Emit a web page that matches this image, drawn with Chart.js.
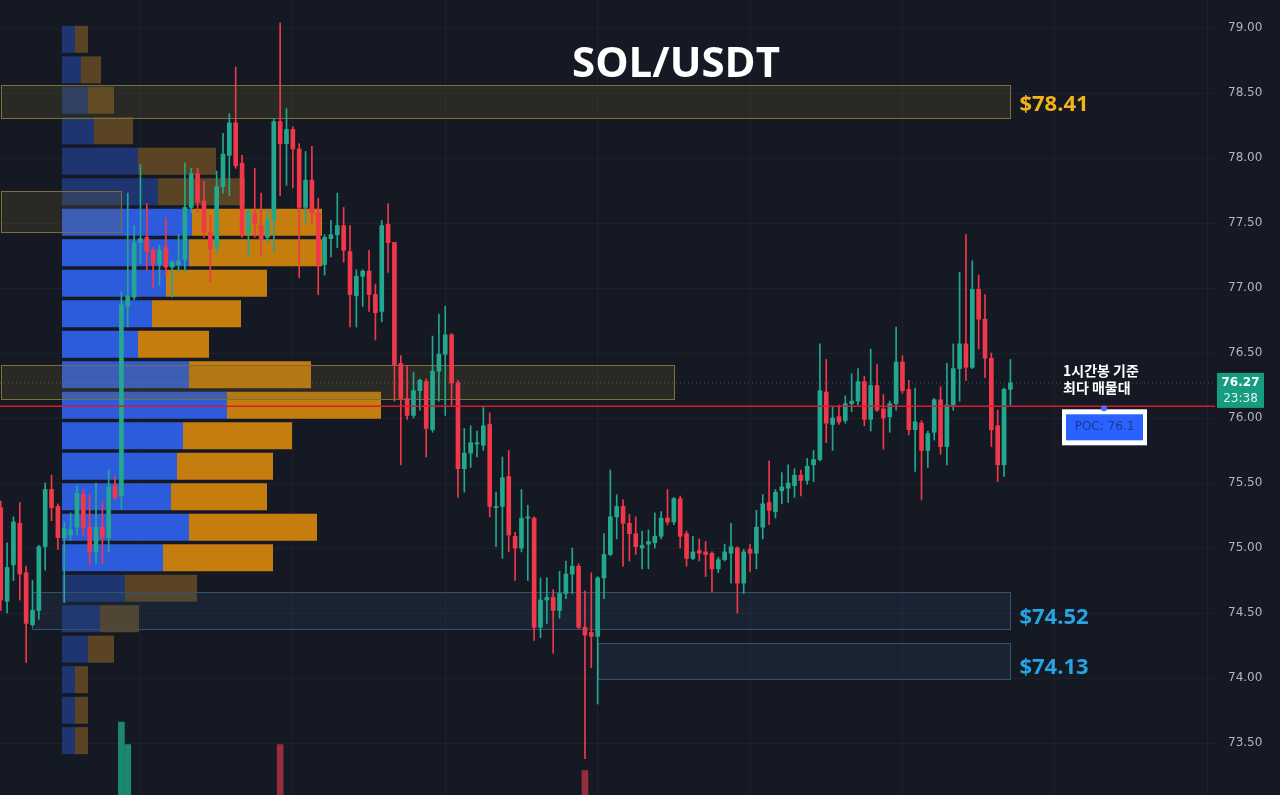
<!DOCTYPE html>
<html>
<head>
<meta charset="utf-8">
<script src="https://cdn.jsdelivr.net/npm/chart.js@4.4.1/dist/chart.umd.min.js"></script>
<style>
  html, body { margin: 0; padding: 0; background: #141923; overflow: hidden; }
  canvas { display: block; }
</style>
</head>
<body>
<canvas id="chart" width="1280" height="795"></canvas>
<script>
// ── Data ────────────────────────────────────────────────────────────
const TITLE = "SOL/USDT";

// 1h candles, oldest first
const OPEN = [
  75.31,74.59,74.87,75.19,74.81,74.41,74.52,75.01,75.45,75.32,
  75.08,75.10,75.16,75.41,75.16,74.97,75.16,75.08,75.48,75.40,
  76.86,76.93,77.35,77.39,77.29,77.18,77.31,77.16,77.18,77.22,
  77.62,77.88,77.67,77.43,77.31,77.78,78.02,78.27,77.96,77.42,
  77.57,77.48,77.39,77.52,78.28,78.11,78.22,78.07,77.62,77.83,
  77.58,77.18,77.38,77.41,77.48,77.28,76.94,77.09,77.13,76.95,
  76.82,77.49,77.35,76.42,76.15,76.02,76.21,76.28,75.91,76.36,
  76.49,76.64,76.27,75.61,75.73,75.80,75.79,75.95,75.31,75.32,
  75.55,75.09,75.00,75.23,75.23,74.39,74.60,74.62,74.52,74.65,
  74.80,74.86,74.39,74.35,74.32,74.77,74.95,75.24,75.32,75.19,
  75.11,75.00,75.03,75.04,75.09,75.23,75.20,75.38,75.11,74.92,
  74.98,74.97,74.96,74.84,74.91,74.96,75.00,74.73,74.99,74.96,
  75.16,75.35,75.28,75.44,75.46,75.48,75.56,75.52,75.64,75.68,
  76.20,75.95,76.01,75.98,76.11,76.13,76.28,75.99,76.25,76.07,
  76.01,76.11,76.43,76.22,75.91,75.96,75.75,75.89,76.14,75.78,
  76.10,76.38,76.57,76.39,76.99,76.76,76.46,75.94,75.64,76.22
];
const HIGH = [
  75.36,75.04,75.24,75.35,74.86,74.75,75.02,75.50,75.56,75.34,
  75.20,75.27,75.48,75.45,75.41,75.50,75.36,75.60,75.55,76.97,
  77.73,77.48,77.95,77.65,77.31,77.33,77.54,77.21,77.41,77.96,
  77.92,77.92,77.82,77.56,77.90,78.19,78.34,78.70,78.02,77.60,
  77.92,77.73,77.60,78.30,79.04,78.38,78.24,78.11,78.05,78.09,
  77.69,77.41,77.52,77.73,77.62,77.48,77.14,77.14,77.29,77.03,
  77.52,77.65,77.35,76.48,76.40,76.35,76.30,76.30,76.63,76.80,
  76.86,76.65,76.29,75.92,75.94,75.90,76.08,76.04,75.43,75.70,
  75.75,75.12,75.45,75.33,75.24,74.77,74.77,74.68,74.82,74.90,
  75.00,74.88,74.67,74.81,74.78,75.11,75.60,75.41,75.37,75.26,
  75.24,75.13,75.14,75.27,75.28,75.45,75.39,75.40,75.13,75.09,
  75.07,75.05,74.97,74.93,75.03,75.19,75.01,74.99,75.03,75.29,
  75.41,75.67,75.45,75.58,75.64,75.61,75.60,75.69,75.75,76.57,
  76.45,76.09,76.10,76.17,76.34,76.38,76.32,76.53,76.41,76.18,
  76.13,76.70,76.48,76.29,76.23,75.98,75.90,76.15,76.24,76.42,
  76.57,77.12,77.41,77.21,77.10,76.95,76.50,76.06,76.23,76.45
];
const LOW = [
  74.52,74.50,74.75,74.60,74.12,74.40,74.45,74.83,75.21,74.99,
  74.58,75.06,75.10,75.10,74.87,74.88,74.88,74.97,75.37,75.30,
  76.70,76.91,77.19,77.14,77.00,77.02,77.10,76.93,77.12,77.12,
  77.58,77.58,77.39,77.05,77.27,77.73,77.71,77.92,77.39,77.24,
  77.39,77.25,77.35,77.27,77.71,77.79,77.77,77.08,77.50,77.50,
  76.95,77.10,77.24,77.31,77.20,76.70,76.70,76.86,76.82,76.60,
  76.74,77.12,76.13,75.64,75.99,76.00,76.06,75.70,75.89,76.13,
  76.02,76.10,75.39,75.43,75.62,75.70,75.75,75.24,75.01,74.92,
  74.97,74.75,74.97,74.75,74.29,74.31,74.42,74.19,74.46,74.61,
  74.65,74.38,73.38,74.08,73.80,74.61,74.94,75.07,74.86,74.90,
  74.95,74.84,74.84,75.00,75.07,75.18,75.18,75.00,74.86,74.91,
  74.90,74.78,74.66,74.81,74.90,74.73,74.50,74.65,74.82,74.84,
  75.07,75.18,75.23,75.34,75.35,75.39,75.40,75.49,75.51,75.67,
  75.81,75.75,75.95,75.96,76.05,76.10,75.94,75.90,76.05,75.76,
  75.89,76.06,76.19,75.87,75.59,75.37,75.62,75.83,75.72,75.64,
  76.06,76.13,76.29,76.38,76.53,76.31,75.78,75.51,75.55,76.10
];
const CLOSE = [
  74.60,74.85,75.20,74.80,74.42,74.52,75.01,75.45,75.31,75.08,
  75.15,75.14,75.42,75.16,74.97,75.16,75.08,75.47,75.39,76.87,
  76.94,77.35,77.38,77.28,77.18,77.29,77.16,77.20,77.21,77.62,
  77.88,77.66,77.43,77.30,77.78,78.03,78.27,77.94,77.41,77.59,
  77.50,77.37,77.52,78.28,78.11,78.22,78.07,77.62,77.83,77.58,
  77.18,77.39,77.41,77.48,77.29,76.95,77.09,77.13,76.95,76.81,
  77.48,77.35,76.41,76.15,76.02,76.21,76.29,75.92,76.36,76.49,
  76.64,76.27,75.61,75.73,75.81,75.81,75.94,75.32,75.32,75.54,
  75.10,75.00,75.23,75.24,74.39,74.60,74.62,74.52,74.65,74.80,
  74.86,74.39,74.33,74.32,74.77,74.95,75.24,75.32,75.19,75.11,
  75.01,75.02,75.05,75.09,75.23,75.20,75.38,75.09,74.92,74.97,
  74.96,74.95,74.84,74.91,74.97,75.01,74.73,74.97,74.96,75.16,
  75.34,75.29,75.43,75.47,75.50,75.56,75.52,75.63,75.68,76.21,
  75.96,76.00,75.97,76.11,76.13,76.28,75.99,76.25,76.06,76.00,
  76.11,76.43,76.21,75.91,75.97,75.75,75.88,76.14,75.78,76.10,
  76.38,76.57,76.39,76.99,76.76,76.46,75.91,75.64,76.22,76.27
];

// volume bars that reach into the visible area (candle index -> volume, K)
const VOLUME_AT = [19, 20, 44, 92];
const VOLUME = [1850, 1710, 1710, 1550];

// volume profile rows (price centre, buy / sell volume, K)
const PROFILE_PRICES = [
  78.913,78.678,78.444,78.209,77.975,77.740,77.505,77.271,77.036,76.802,76.567,76.333,
  76.098,75.864,75.629,75.394,75.160,74.925,74.691,74.456,74.222,73.987,73.752,73.518
];
const PROFILE_BUY  = [13,19,26,32,76,96,130,127,104,90,76,127,165,121,115,109,127,101,63,38,26,13,13,13];
const PROFILE_SELL = [13,20,26,39,78,87,130,133,101,89,71,122,154,109,96,96,128,110,72,39,26,13,13,13];
const VALUE_AREA = [74.81, 77.62];

const POC_PRICE = 76.09;
const POC_TEXT = "POC: 76.1";
const NOTE_LINES = ["1시간봉 기준", "최다 매물대"];
const CLOCK = "23:38";

// zones: candle index range, price range
const ZONES = [
  { from: 0,  to: 159, top: 78.56, bottom: 78.31, kind: "resist", label: 78.41 },
  { from: 0,  to: 19,  top: 77.75, bottom: 77.43, kind: "resist" },
  { from: 0,  to: 106, top: 76.41, bottom: 76.15, kind: "resist" },
  { from: 5,  to: 159, top: 74.66, bottom: 74.38, kind: "support", label: 74.52 },
  { from: 94, to: 159, top: 74.27, bottom: 73.99, kind: "support", label: 74.13 },
];

const Y_TICKS = [73.5,74,74.5,75,75.5,76,76.5,77,77.5,78,78.5,79];
const GRID_X = [22, 46, 70, 94, 118, 142, 166, 190];

// ── Styles ──────────────────────────────────────────────────────────
const BG = "#141923";
const UP = "#22a88e", DOWN = "#f0384a";
const GRID = "#1c212c";
const ZONE_STYLE = {
  resist:  { fill: "rgba(120,105,45,0.22)", stroke: "#7d6f36", text: "#f2b418", dy: 0 },
  support: { fill: "rgba(45,75,105,0.22)",  stroke: "#34536b", text: "#27a4e2", dy: 7 },
};
const XMIN = -0.118, XMAX = 191.22;
const YMIN = 73.1, YMAX = 79.2154;

const idx = OPEN.map((_, i) => i);
const upAt = i => CLOSE[i] >= OPEN[i];
const inVA = p => p >= VALUE_AREA[0] && p <= VALUE_AREA[1];
const noPad = s => { s.paddingTop = s.paddingBottom = s.paddingLeft = s.paddingRight = 0; };

// ── Plugins ─────────────────────────────────────────────────────────
const bgPlugin = {
  id: "bg",
  beforeDraw(chart) {
    const { ctx, width, height } = chart;
    ctx.save();
    ctx.fillStyle = BG;
    ctx.fillRect(0, 0, width, height);
    ctx.restore();
  }
};

const zonePlugin = {
  id: "zones",
  beforeDatasetDraw(chart, args) {
    if (args.index !== 4) return;
    const { ctx, scales: { x, y } } = chart;
    ctx.save();
    ZONES.forEach(z => {
      const st = ZONE_STYLE[z.kind];
      const x0 = Math.round(x.getPixelForValue(z.from)), x1 = Math.round(x.getPixelForValue(z.to));
      const y0 = Math.round(y.getPixelForValue(z.top)), y1 = Math.round(y.getPixelForValue(z.bottom));
      ctx.fillStyle = st.fill;
      ctx.fillRect(x0, y0, x1 - x0, y1 - y0);
      ctx.strokeStyle = st.stroke;
      ctx.lineWidth = 1;
      ctx.strokeRect(x0 + 0.5, y0 + 0.5, x1 - x0, y1 - y0);
    });
    ctx.restore();
  }
};

const overlayPlugin = {
  id: "overlay",
  afterDraw(chart) {
    const { ctx, scales: { x, y } } = chart;
    ctx.save();

    // title
    ctx.fillStyle = "#ffffff";
    ctx.font = '700 42px "Open Sans"';
    ctx.textAlign = "center";
    ctx.textBaseline = "middle";
    ctx.fillText(TITLE, 676, 65);

    // zone price labels
    ctx.font = '700 22px "Open Sans"';
    ctx.textAlign = "left";
    ZONES.filter(z => z.label).forEach(z => {
      const st = ZONE_STYLE[z.kind];
      ctx.fillStyle = st.text;
      ctx.fillText("$" + z.label.toFixed(2), x.getPixelForValue(z.to) + 9, y.getPixelForValue(z.label) + st.dy);
    });

    // POC note
    const pocY = y.getPixelForValue(POC_PRICE);
    ctx.fillStyle = "#ffffff";
    ctx.font = '700 14px "Noto Sans CJK KR"';
    ctx.fillText(NOTE_LINES[0], 1063, pocY - 36);
    ctx.fillText(NOTE_LINES[1], 1063, pocY - 19);

    ctx.fillStyle = "#ffffff";
    ctx.fillRect(1062, pocY + 3, 85, 36);
    ctx.fillStyle = "#2962ff";
    ctx.fillRect(1066, pocY + 8, 77, 26);
    ctx.fillStyle = "#1b3a8f";
    ctx.font = '12px "DejaVu Sans"';
    ctx.textAlign = "center";
    ctx.fillText(POC_TEXT, 1104.5, pocY + 21);
    ctx.fillStyle = "#4b6df0";
    ctx.beginPath();
    ctx.arc(1104, pocY + 2, 3, 0, Math.PI * 2);
    ctx.fill();

    // last price tag
    const last = CLOSE[CLOSE.length - 1];
    const ly = y.getPixelForValue(last);
    ctx.fillStyle = "#169c80";
    ctx.fillRect(1217, ly - 10, 47, 35);
    ctx.fillStyle = "#ffffff";
    ctx.font = '700 12px "DejaVu Sans"';
    ctx.fillText(last.toFixed(2), 1240.5, ly);
    ctx.fillStyle = "#dff3ee";
    ctx.font = '12px "DejaVu Sans"';
    ctx.fillText(CLOCK, 1240.5, ly + 16);

    ctx.restore();
  }
};

// ── Chart ───────────────────────────────────────────────────────────
const profileColor = (dimmed, bright) => PROFILE_PRICES.map(p => inVA(p) ? bright : dimmed);

new Chart(document.getElementById("chart"), {
  type: "bar",
  data: {
    datasets: [
      {
        label: "buy", indexAxis: "y", xAxisID: "xp", yAxisID: "yp", order: 6,
        data: PROFILE_PRICES.map((p, k) => ({ y: p, x: [0, PROFILE_BUY[k]] })),
        backgroundColor: profileColor("#1f3572", "#2c5bdc"),
        barThickness: 27, grouped: false, inflateAmount: 0,
      },
      {
        label: "sell", indexAxis: "y", xAxisID: "xp", yAxisID: "yp", order: 5,
        data: PROFILE_PRICES.map((p, k) => ({ y: p, x: [PROFILE_BUY[k], PROFILE_BUY[k] + PROFILE_SELL[k]] })),
        backgroundColor: profileColor("#5b4424", "#c57d0e"),
        barThickness: 27, grouped: false, inflateAmount: 0,
      },
      {
        label: "volume", xAxisID: "x", yAxisID: "yv", order: 4,
        data: VOLUME_AT.map((i, k) => ({ x: i, y: VOLUME[k] })),
        backgroundColor: VOLUME_AT.map(i => upAt(i) ? "#1b8873" : "#962c3c"),
        barThickness: 6, grouped: false,
      },
      {
        type: "line", label: "last", xAxisID: "x", yAxisID: "y", order: 3,
        data: [{ x: XMIN, y: CLOSE[CLOSE.length - 1] }, { x: XMAX, y: CLOSE[CLOSE.length - 1] }],
        borderColor: "rgba(190,195,205,0.35)", borderWidth: 1, borderDash: [1, 3],
        pointRadius: 0,
      },
      {
        label: "wick", xAxisID: "x", yAxisID: "y", order: 2,
        data: idx.map(i => ({ x: i, y: [LOW[i], HIGH[i]] })),
        backgroundColor: idx.map(i => upAt(i) ? UP : DOWN),
        barThickness: 1, grouped: false,
      },
      {
        label: "body", xAxisID: "x", yAxisID: "y", order: 1,
        data: idx.map(i => ({ x: i, y: [Math.min(OPEN[i], CLOSE[i]), Math.max(OPEN[i], CLOSE[i])] })),
        backgroundColor: idx.map(i => upAt(i) ? UP : DOWN),
        barThickness: 4, minBarLength: 1, grouped: false,
      },
      {
        type: "line", label: "poc", xAxisID: "x", yAxisID: "y", order: 0,
        data: [{ x: XMIN, y: POC_PRICE }, { x: XMAX, y: POC_PRICE }],
        borderColor: "#d61d2a", borderWidth: 1.5, pointRadius: 0,
      },
    ]
  },
  options: {
    responsive: false,
    animation: false,
    devicePixelRatio: 1,
    layout: { padding: 0 },
    plugins: { legend: { display: false }, tooltip: { enabled: false } },
    scales: {
      x: {
        type: "linear", min: XMIN, max: XMAX, offset: false,
        ticks: { display: false },
        grid: { color: GRID, drawTicks: false, offset: false },
        border: { display: false },
        afterBuildTicks: s => { s.ticks = GRID_X.map(v => ({ value: v })); },
        afterFit: s => { s.height = 0; noPad(s); },
      },
      y: {
        type: "linear", position: "right", min: YMIN, max: YMAX, offset: false,
        ticks: {
          color: "#b2b5be", padding: 13,
          font: { family: "DejaVu Sans", size: 12 },
          callback: v => Number(v).toFixed(2),
        },
        grid: { color: GRID, drawTicks: false },
        border: { display: false },
        afterBuildTicks: s => { s.ticks = Y_TICKS.map(v => ({ value: v })); },
        afterFit: s => { s.width = 65; noPad(s); },
      },
      yp: { type: "linear", display: false, min: YMIN, max: YMAX, offset: false, grid: { offset: false } },
      xp: { type: "linear", display: false, min: -62, max: 1153, offset: false },
      yv: { type: "linear", display: false, min: 1400, max: 6300, offset: false },
    }
  },
  plugins: [bgPlugin, zonePlugin, overlayPlugin]
});
</script>
</body>
</html>
